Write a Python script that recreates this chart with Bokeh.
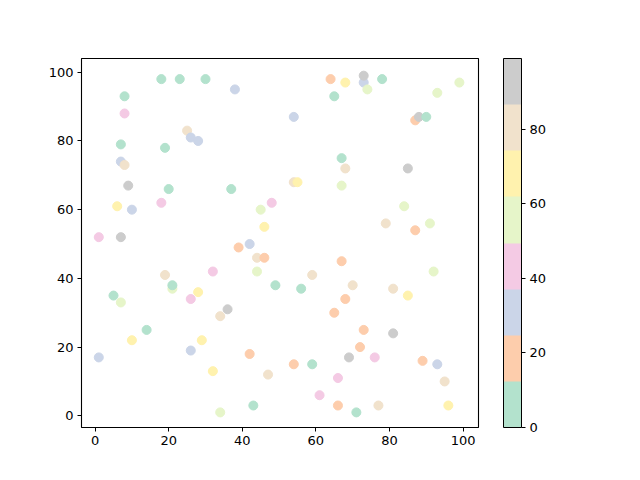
from bokeh.plotting import figure
from bokeh.models import ColumnDataSource, LinearColorMapper, ColorBar, FixedTicker, Range1d
from bokeh.embed import file_html
from bokeh.resources import INLINE

# scatter points: x, y and the colour value (0..99)
xs = [8, 18, 23, 30, 8, 25, 26, 28, 7, 19, 7, 8, 9, 20, 18, 6, 10, 1, 7,
      38, 64, 68, 65, 54, 67, 68, 54, 55, 67, 37, 48, 45, 46, 42, 39,
      73, 73, 74, 78, 99, 93, 87, 88, 90, 85, 84, 79, 87, 91,
      19, 21, 21, 32, 5, 7, 28, 26, 34, 14, 10, 29, 1, 26, 32, 34,
      44, 46, 67, 44, 59, 49, 56, 70, 68, 36, 65, 42, 54, 59, 47, 69, 66, 61, 43, 66,
      92, 81, 85, 73, 81, 72, 76, 89, 93, 95, 71, 77, 96]
ys = [93, 98, 98, 98, 88, 83, 81, 80, 79, 78, 74, 73, 67, 66, 62, 61, 60, 52, 52,
      95, 98, 97, 93, 87, 75, 72, 68, 68, 67, 66, 62, 60, 55, 50, 49,
      97, 99, 95, 98, 97, 94, 86, 87, 87, 72, 61, 56, 54, 56,
      41, 37, 38, 42, 35, 33, 36, 34, 29, 25, 22, 22, 17, 19, 13, 1,
      46, 46, 45, 42, 41, 38, 37, 38, 34, 31, 30, 18, 15, 15, 12, 17, 11, 6, 3, 3,
      42, 37, 35, 25, 24, 20, 17, 16, 15, 10, 1, 3, 3]
cs = [5, 8, 4, 7, 44, 80, 30, 33, 6, 9, 28, 79, 92, 3, 41, 70, 31, 45, 95,
      32, 18, 66, 2, 29, 10, 81, 78, 68, 55, 7, 43, 57, 65, 27, 20,
      34, 96, 58, 1, 52, 60, 16, 90, 11, 88, 54, 77, 19, 59,
      82, 53, 3, 46, 8, 56, 69, 40, 84, 4, 72, 64, 31, 26, 67, 51,
      83, 21, 17, 53, 76, 9, 2, 80, 14, 91, 22, 15, 23, 6, 79, 94, 42, 47, 10, 19,
      57, 85, 71, 14, 89, 23, 39, 20, 30, 76, 5, 82, 63]

pastel2 = ["#b3e2cd", "#fdcdac", "#cbd5e8", "#f4cae4",
           "#e6f5c9", "#fff2ae", "#f1e2cc", "#cccccc"]
cbar_ticks = [0, 20, 40, 60, 80]

mapper = LinearColorMapper(palette=pastel2, low=0, high=99)
src = ColumnDataSource(data=dict(x=xs, y=ys, c=cs))

p = figure(width=640, height=480, output_backend="svg", toolbar_location=None,
           x_range=Range1d(-3.7, 104.2), y_range=Range1d(-3.4, 104),
           min_border_left=81, min_border_top=58, min_border_bottom=53, min_border_right=162)
p.scatter("x", "y", source=src, size=9,
          fill_color={"field": "c", "transform": mapper},
          line_color={"field": "c", "transform": mapper})

p.xgrid.visible = False
p.ygrid.visible = False
p.outline_line_color = "black"
p.outline_line_width = 1.1
for ax in (p.xaxis, p.yaxis):
    ax.ticker = FixedTicker(ticks=[0, 20, 40, 60, 80, 100])
    ax.minor_tick_line_color = None
    ax.major_tick_in = 0
    ax.major_tick_out = 4
    ax.axis_line_color = None
    ax.major_label_text_font = "DejaVu Sans"
    ax.major_label_text_font_size = "13px"
    ax.major_label_text_color = "black"
    ax.major_tick_line_color = "black"
p.yaxis.major_label_standoff = 4
p.xaxis.major_label_standoff = 4

cb = ColorBar(color_mapper=mapper, width=18, height=369, padding=0, margin=0,
              location=(25, 0), ticker=FixedTicker(ticks=cbar_ticks),
              major_tick_in=0, major_tick_out=4, major_tick_line_color="black",
              bar_line_color="black", minor_tick_line_color=None,
              major_label_text_font="DejaVu Sans", major_label_text_font_size="13px",
              major_label_text_color="black",
              label_standoff=4, border_line_color=None, background_fill_color=None)
p.add_layout(cb, "right")

open("out.html", "w").write(file_html(p, INLINE))
